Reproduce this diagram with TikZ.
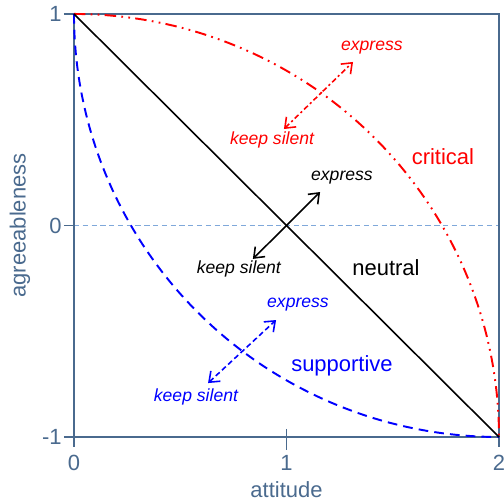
\documentclass[tikz,border=0pt]{standalone}
\usepackage{fontspec}
\setmainfont{Liberation Sans}
\usetikzlibrary{arrows.meta}
\definecolor{axisblue}{HTML}{4A6A8E}
\definecolor{zeroline}{HTML}{7FA8DA}
\definecolor{critred}{HTML}{FF0000}
\definecolor{suppblue}{HTML}{0000FF}
\newcommand{\labelfont}{\fontsize{12.5}{15}\selectfont}
\newcommand{\choicefont}{\fontsize{10}{12}\selectfont\itshape}

\begin{document}
\begin{tikzpicture}[
  x=4.25cm, y=4.23cm,
  axis/.style={draw=axisblue, line width=1.1pt},
  ticklabel/.style={text=axisblue, font=\labelfont, inner sep=0pt},
  curvelabel/.style={font=\labelfont, inner sep=0pt},
  choice/.style={font=\choicefont, inner sep=0pt},
  arrow/.style={{Straight Barb[length=1.8mm,width=2.8mm]}-{Straight Barb[length=1.8mm,width=2.8mm]}, line width=0.9pt},
  critline/.style={draw=critred, line width=1.1pt, dash pattern=on 6.5pt off 3pt on 1pt off 3pt on 1pt off 3pt},
  suppline/.style={draw=suppblue, line width=1.1pt, dash pattern=on 5.5pt off 3.5pt}
]
\useasboundingbox (-0.348,-1.312) rectangle (2.0235,1.066);
% zero line and frame
\draw[zeroline, line width=0.7pt, dash pattern=on 3pt off 2pt] (0,0) -- (2,0);
\draw[axis] (0,-1) rectangle (2,1);
\foreach \y in {-1,0,1}
  \draw[axis] (-0.047,\y) -- (0,\y);
\foreach \x in {0,2}
  \draw[axis] (\x,-1) -- (\x,-1.047);
\draw[axis] (1,-0.962) -- (1,-1.06);
% tick labels
\node[ticklabel, anchor=east] (y1) at (-0.056,1) {1};
\node[ticklabel, anchor=east] (y0) at (-0.056,0) {0};
\node[ticklabel, anchor=east] (ym1) at (-0.056,-1) {-1};
\node[ticklabel] (x0) at (0,-1.123) {0};
\node[ticklabel] (x1) at (1,-1.123) {1};
\node[ticklabel] (x2) at (2,-1.123) {2};
\node[ticklabel] (xlabel) at (1,-1.251) {attitude};
\node[ticklabel, rotate=90] (ylabel) at (-0.254,0) {agreeableness};
% curves
\draw[critline] plot[domain=90:0, samples=80, smooth] ({2*cos(\x)},{-1+2*sin(\x)});
\draw[suppline] plot[domain=180:270, samples=80, smooth] ({2+2*cos(\x)},{1+2*sin(\x)});
\draw[line width=0.9pt] (0,1) -- (2,-1);
% curve names
\node[curvelabel, text=critred] (critical) at (1.736,0.324) {critical};
\node[curvelabel] (neutral) at (1.468,-0.201) {neutral};
\node[curvelabel, text=suppblue] (supportive) at (1.261,-0.664) {supportive};
% choice arrows
\coordinate (critS) at (0.988,0.456);
\coordinate (critE) at (1.313,0.773);
\coordinate (neutS) at (0.842,-0.158);
\coordinate (neutE) at (1.158,0.158);
\coordinate (suppS) at (0.631,-0.745);
\coordinate (suppE) at (0.951,-0.447);
\draw[arrow, critred, dash pattern=on 3pt off 1.6pt on 1.2pt off 1.6pt] (critS) -- (critE);
\draw[arrow] (neutS) -- (neutE);
\draw[arrow, suppblue, dash pattern=on 3pt off 1.8pt] (suppS) -- (suppE);
\node[choice, text=critred] (critExp) at (1.402,0.839) {express};
\node[choice, text=critred] (critSil) at (0.932,0.405) {keep silent};
\node[choice] (neutExp) at (1.261,0.225) {express};
\node[choice] (neutSil) at (0.776,-0.206) {keep silent};
\node[choice, text=suppblue] (suppExp) at (1.054,-0.376) {express};
\node[choice, text=suppblue] (suppSil) at (0.574,-0.811) {keep silent};
\end{tikzpicture}
\end{document}
